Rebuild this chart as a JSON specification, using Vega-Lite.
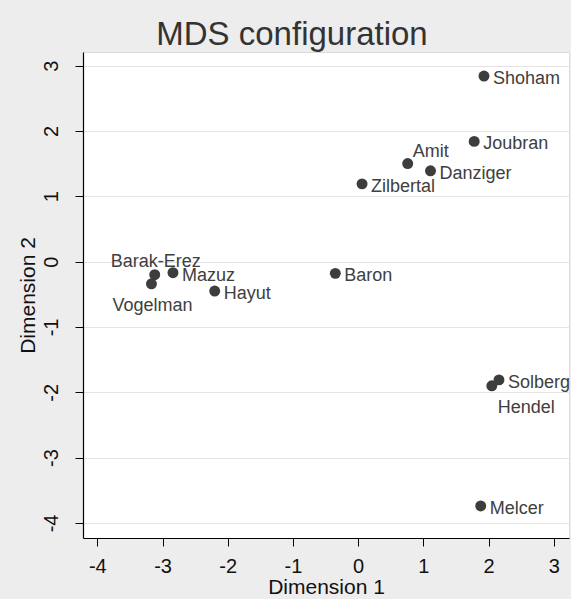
{
  "$schema": "https://vega.github.io/schema/vega-lite/v6.json",
  "autosize": {"type": "none"},
  "padding": {"left": 83, "top": 52, "right": 2, "bottom": 61},
  "width": 486,
  "height": 486,
  "background": "#ededed",
  "title": {
    "text": "MDS configuration",
    "fontSize": 33,
    "font": "Liberation Sans",
    "fontWeight": "normal",
    "color": "#333333",
    "anchor": "middle",
    "frame": "group",
    "dx": -34,
    "dy": 32,
    "baseline": "alphabetic",
    "offset": 6
  },
  "config": {
    "view": {"fill": "white", "stroke": "#dcdcdc"},
    "font": "Liberation Sans"
  },
  "data": {
    "values": [
      {"name": "Shoham", "dim1": 1.93, "dim2": 2.84},
      {"name": "Joubran", "dim1": 1.78, "dim2": 1.84},
      {"name": "Amit", "dim1": 0.76, "dim2": 1.50},
      {"name": "Danziger", "dim1": 1.11, "dim2": 1.39},
      {"name": "Zilbertal", "dim1": 0.06, "dim2": 1.19},
      {"name": "Baron", "dim1": -0.35, "dim2": -0.18},
      {"name": "Barak-Erez", "dim1": -3.12, "dim2": -0.20},
      {"name": "Mazuz", "dim1": -2.84, "dim2": -0.17},
      {"name": "Vogelman", "dim1": -3.17, "dim2": -0.34},
      {"name": "Hayut", "dim1": -2.20, "dim2": -0.45},
      {"name": "Solberg", "dim1": 2.16, "dim2": -1.81},
      {"name": "Hendel", "dim1": 2.05, "dim2": -1.90},
      {"name": "Melcer", "dim1": 1.88, "dim2": -3.74}
    ]
  },
  "encoding": {
    "x": {
      "field": "dim1",
      "type": "quantitative",
      "scale": {"domain": [-4.22, 3.234], "nice": false, "zero": false},
      "axis": {
        "title": "Dimension 1",
        "values": [-4, -3, -2, -1, 0, 1, 2, 3],
        "labelExpr": "'' + datum.value",
        "grid": false,
        "domainColor": "black",
        "domainWidth": 1.2,
        "tickColor": "black",
        "tickSize": 8,
        "labelFontSize": 20,
        "labelColor": "#111111",
        "labelPadding": 10,
        "labelFlush": false,
        "titleFontSize": 21,
        "titleFontWeight": "normal",
        "titleColor": "#111111",
        "titlePadding": 0
      }
    },
    "y": {
      "field": "dim2",
      "type": "quantitative",
      "scale": {"domain": [-4.23, 3.208], "nice": false, "zero": false},
      "axis": {
        "title": "Dimension 2",
        "values": [-4, -3, -2, -1, 0, 1, 2, 3],
        "labelExpr": "'' + datum.value",
        "grid": true,
        "gridColor": "#e4e4e4",
        "gridWidth": 1,
        "domainColor": "black",
        "domainWidth": 1.2,
        "tickColor": "black",
        "tickSize": 8,
        "labelAngle": -90,
        "labelAlign": "center",
        "labelBaseline": "alphabetic",
        "labelFontSize": 20,
        "labelColor": "#111111",
        "labelPadding": 18,
        "labelFlush": false,
        "titleFontSize": 21,
        "titleFontWeight": "normal",
        "titleColor": "#111111",
        "titlePadding": 3
      }
    }
  },
  "layer": [
    {
      "mark": {"type": "circle", "size": 120, "opacity": 1, "color": "#3d3d3d"}
    },
    {
      "transform": [{"filter": {"field": "name", "oneOf": ["Shoham", "Joubran", "Danziger", "Zilbertal", "Baron", "Mazuz", "Hayut", "Solberg", "Melcer"]}}],
      "mark": {"type": "text", "align": "left", "baseline": "alphabetic", "dx": 9, "dy": 8, "fontSize": 18, "color": "#404040"},
      "encoding": {"text": {"field": "name"}}
    },
    {
      "transform": [{"filter": {"field": "name", "equal": "Amit"}}],
      "mark": {"type": "text", "align": "left", "baseline": "alphabetic", "dx": 5, "dy": -7, "fontSize": 18, "color": "#404040"},
      "encoding": {"text": {"field": "name"}}
    },
    {
      "transform": [{"filter": {"field": "name", "equal": "Barak-Erez"}}],
      "mark": {"type": "text", "align": "center", "baseline": "alphabetic", "dx": 1, "dy": -8, "fontSize": 18, "color": "#404040"},
      "encoding": {"text": {"field": "name"}}
    },
    {
      "transform": [{"filter": {"field": "name", "equal": "Vogelman"}}],
      "mark": {"type": "text", "align": "center", "baseline": "alphabetic", "dx": 1, "dy": 27, "fontSize": 18, "color": "#404040"},
      "encoding": {"text": {"field": "name"}}
    },
    {
      "transform": [{"filter": {"field": "name", "equal": "Hendel"}}],
      "mark": {"type": "text", "align": "left", "baseline": "alphabetic", "dx": 6, "dy": 27, "fontSize": 18, "color": "#404040"},
      "encoding": {"text": {"field": "name"}}
    }
  ]
}
